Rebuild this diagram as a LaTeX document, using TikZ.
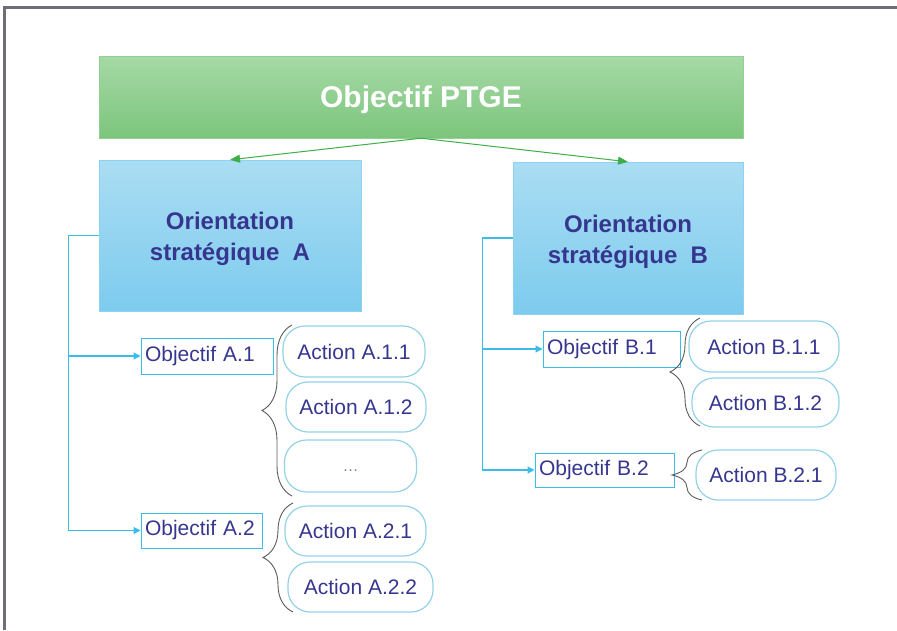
\documentclass[tikz,border=0pt]{standalone}
\usepackage{fontspec}
\setmainfont{Liberation Sans}
\usepackage{tikz}
\usetikzlibrary{arrows.meta,decorations.pathreplacing}
\definecolor{ptgeink}{HTML}{36368F}
\definecolor{greentop}{HTML}{A6D9A5}
\definecolor{greenbot}{HTML}{7CC57D}
\definecolor{greenedge}{HTML}{92D092}
\definecolor{greenarrow}{HTML}{3DAE48}
\definecolor{bluetop}{HTML}{AADDF3}
\definecolor{bluebot}{HTML}{7DCBEE}
\definecolor{blueedge}{HTML}{8DD3F1}
\definecolor{cyanline}{HTML}{3BBCE8}
\definecolor{actedge}{HTML}{92D2E6}
\definecolor{braceink}{HTML}{5A5A5A}
\definecolor{framegray}{HTML}{6E6E78}
\tikzset{
  font={\fontsize{21pt}{24}\selectfont}}

\begin{document}
\begin{tikzpicture}[x=1pt,y=1pt]
\tikzstyle{every node}+=[inner sep=0pt]
\tikzstyle{topbox}=[draw=greenedge,top color=greentop,bottom color=greenbot,text=white,
  font={\fontsize{30pt}{34}\selectfont\bfseries}]
\tikzstyle{orbox}=[draw=blueedge,top color=bluetop,bottom color=bluebot,text=ptgeink,
  align=center,font={\fontsize{24pt}{31}\selectfont\bfseries}]
\tikzstyle{objbox}=[draw=cyanline,line width=1pt,text=ptgeink,align=left,inner xsep=4pt]
\tikzstyle{actbox}=[draw=actedge,line width=1.2pt,rounded corners=22pt,text=ptgeink]
\tikzstyle{toparrow}=[greenarrow,line width=1pt,-{Triangle[length=10pt,width=8pt]}]
\tikzstyle{conn}=[cyanline,line width=1.2pt,-{Triangle[length=7pt,width=7pt]}]
\tikzstyle{accolade}=[braceink,line width=0.9pt,decorate,decoration={brace,amplitude=30pt}]
\useasboundingbox (0,0) rectangle (897,-630);
% page frame
\draw [framegray,line width=3pt] (4.5,-630) -- (4.5,-7.5) -- (897,-7.5);
% top level
\node [topbox,minimum width=644,minimum height=82] (ptge) at (421,-97) {\raisebox{-3pt}[\height][\depth]{Objectif PTGE}};
\node [orbox,minimum width=262,minimum height=151] (oriA) at (230,-235.5) {\rule{0pt}{25pt}Orientation\\strat\'egique\ \ A};
\node [orbox,minimum width=230,minimum height=152] (oriB) at (628,-238) {\rule{0pt}{25pt}Orientation\\strat\'egique\ \ B};
\draw [toparrow] (ptge.south) -- (oriA.north);
\draw [toparrow] (ptge.south) -- (oriB.north);
% objectifs
\node [objbox,text width=124,minimum height=36] (objA1) at (207,-356) {Objectif A.1};
\node [objbox,text width=113,minimum height=35] (objA2) at (201.5,-530.5) {Objectif A.2};
\node [objbox,text width=129,minimum height=36] (objB1) at (611.5,-349) {Objectif B.1};
\node [objbox,text width=131,minimum height=34] (objB2) at (604.5,-470) {Objectif B.2};
\draw [conn] (oriA.west) -- ++(-30,0) coordinate (trunkA) |- (objA2.west);
\draw [conn] (trunkA |- objA1.west) -- (objA1.west);
\draw [conn] (oriB.west) -- ++(-30,0) coordinate (trunkB) |- (objB2.west);
\draw [conn] (trunkB |- objB1.west) -- (objB1.west);
% actions
\node [actbox,minimum width=142,minimum height=51] (actA11) at (354,-351.5) {Action A.1.1};
\node [actbox,minimum width=140,minimum height=50] (actA12) at (356,-407) {Action A.1.2};
\node [actbox,minimum width=132,minimum height=52,text=gray,font={\fontsize{16pt}{18}\selectfont}] (actAdots) at (350.5,-466) {\raisebox{-5pt}[\height][\depth]{\ldots}};
\node [actbox,minimum width=141,minimum height=50] (actA21) at (355.5,-531) {Action A.2.1};
\node [actbox,minimum width=145,minimum height=50] (actA22) at (360.5,-587) {Action A.2.2};
\node [actbox,minimum width=150,minimum height=51] (actB11) at (764,-346.5) {Action B.1.1};
\node [actbox,minimum width=147,minimum height=49] (actB12) at (765.5,-402.5) {Action B.1.2};
\node [actbox,minimum width=140,minimum height=50] (actB21) at (766,-475) {Action B.2.1};
% braces
\draw [accolade] (292,-496) -- (292,-325);
\draw [accolade] (293,-612) -- (293,-503);
\draw [accolade] (700,-426) -- (700,-318);
\draw [accolade] (702,-500) -- (702,-450);
\end{tikzpicture}
\end{document}
